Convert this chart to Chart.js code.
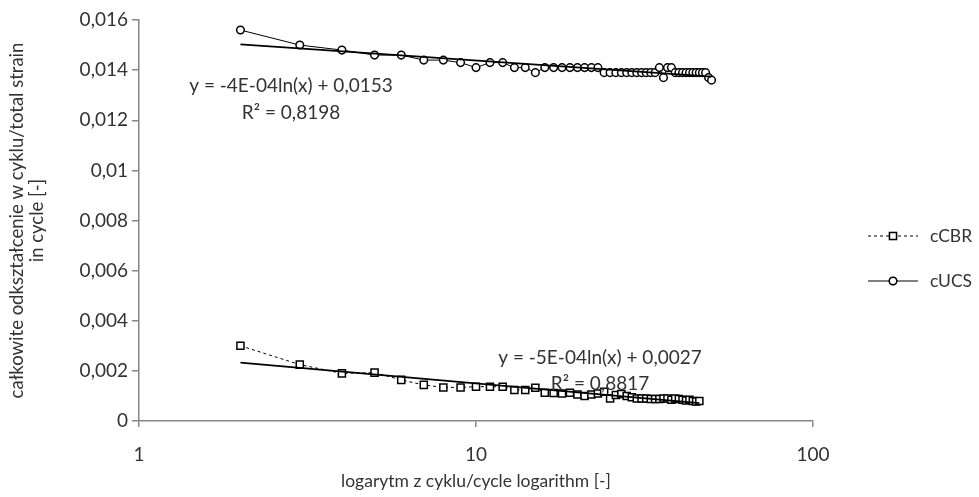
<!DOCTYPE html>
<html><head><meta charset="utf-8">
<script src="https://cdn.jsdelivr.net/npm/chart.js@4.4.1/dist/chart.umd.min.js"></script>
<style>html,body{margin:0;padding:0;background:#fff;} #wrap{width:979px;height:497px;}</style>
</head><body><div id="wrap"><canvas id="c" width="979" height="497"></canvas></div>
<script>
const cyclesCBR = [2,3,4,5,6,7,8,9,10,11,12,13,14,15,16,17,18,19,20,21,22,23,24,25,26,27,28,29,30,31,32,33,34,35,36,37,38,39,40,41,42,43,44,45,46];
const cCBR = [0.0030,0.00225,0.0019,0.00193,0.00164,0.00144,0.00134,0.00134,0.00137,0.00137,0.00137,0.00124,0.00124,0.00133,0.00113,0.00112,0.0011,0.00113,0.00106,0.0010,0.00106,0.0011,0.00117,0.0009,0.00104,0.00108,0.0010,0.00095,0.0009,0.0009,0.0009,0.00088,0.00088,0.00088,0.0009,0.0009,0.00085,0.0009,0.00088,0.00085,0.00082,0.00085,0.0008,0.00078,0.0008];
const cyclesUCS = [2,3,4,5,6,7,8,9,10,11,12,13,14,15,16,17,18,19,20,21,22,23,24,25,26,27,28,29,30,31,32,33,34,35,36,37,38,39,40,41,42,43,44,45,46,47,48,49,50];
const cUCS = [0.0156,0.0150,0.0148,0.0146,0.0146,0.0144,0.0144,0.0143,0.0141,0.0143,0.0143,0.0141,0.0141,0.0139,0.0141,0.0141,0.0141,0.0141,0.0141,0.0141,0.0141,0.0141,0.0139,0.0139,0.0139,0.0139,0.0139,0.0139,0.0139,0.0139,0.0139,0.0139,0.0139,0.0141,0.0137,0.0141,0.0141,0.0139,0.0139,0.0139,0.0139,0.0139,0.0139,0.0139,0.0139,0.0139,0.0139,0.0137,0.0136];
const xTicks = [1,10,100];
const yTicks = [0,0.002,0.004,0.006,0.008,0.01,0.012,0.014,0.016];
const seriesNames = ['cCBR','cUCS'];
const eqCBR = ['y = -5E-04ln(x) + 0,0027','R² = 0,8817'];
const eqUCS = ['y = -4E-04ln(x) + 0,0153','R² = 0,8198'];
const xTitle = 'logarytm z cyklu/cycle logarithm [-]';
const yTitle = ['całkowite odkształcenie w cyklu/total strain','in cycle [-]'];

const FONT = 'Lato, "Liberation Sans", sans-serif';
const TXT = '#333333';
const AX = '#868686';
const FS = 17.5;

function logFit(xs, ys){
  let n=xs.length,sx=0,sy=0,sxx=0,sxy=0;
  for(let i=0;i<n;i++){const l=Math.log(xs[i]);sx+=l;sy+=ys[i];sxx+=l*l;sxy+=l*ys[i];}
  const a=(n*sxy-sx*sy)/(n*sxx-sx*sx); const b=(sy-a*sx)/n; return {a,b};
}
function trend(xs, ys){
  const f=logFit(xs,ys); const x0=xs[0], x1=xs[xs.length-1];
  return [{x:x0,y:f.a*Math.log(x0)+f.b},{x:x1,y:f.a*Math.log(x1)+f.b}];
}
const pts=(xs,ys)=>xs.map((x,i)=>({x,y:ys[i]}));

const legendPlugin = {
  id:'customLegend',
  afterDraw(chart, args, opts){
    const ctx=chart.ctx; ctx.save();
    ctx.font=FS+'px '+FONT; ctx.textBaseline='middle'; ctx.textAlign='left';
    opts.items.forEach(it=>{
      const ds=chart.data.datasets[it.ds];
      ctx.strokeStyle='#000'; ctx.lineWidth=1; ctx.setLineDash(ds.borderDash||[]);
      ctx.beginPath(); ctx.moveTo(opts.x, it.y); ctx.lineTo(opts.x+opts.len, it.y); ctx.stroke();
      ctx.setLineDash([]);
      Chart.helpers.drawPoint(ctx,{pointStyle:ds.pointStyle,radius:ds.pointRadius,borderWidth:ds.pointBorderWidth},opts.x+opts.len/2,it.y);
      ctx.fillStyle='#fff'; ctx.fill();
      ctx.strokeStyle='#000'; ctx.lineWidth=ds.pointBorderWidth; ctx.stroke();
      ctx.fillStyle=TXT;
      ctx.fillText(seriesNames[it.ds], opts.textX, it.y);
    });
    ctx.restore();
  }
};
const eqPlugin = {
  id:'eqLabels',
  afterDraw(chart, args, opts){
    const ctx=chart.ctx; ctx.save();
    ctx.font=opts.size+'px '+FONT; ctx.fillStyle=TXT; ctx.textBaseline='middle'; ctx.textAlign='center';
    opts.labels.forEach(l=>{ l.lines.forEach((t,i)=>ctx.fillText(t,l.x,l.y+i*l.gap)); });
    ctx.restore();
  }
};

new Chart(document.getElementById('c'),{
  type:'scatter',
  data:{datasets:[
    {label:seriesNames[0],data:pts(cyclesCBR,cCBR),showLine:true,borderColor:'#000',borderWidth:1,borderDash:[3,3],
     pointStyle:'rect',pointRadius:5,pointBorderWidth:1.5,pointBackgroundColor:'#fff',pointBorderColor:'#000',order:2},
    {label:seriesNames[1],data:pts(cyclesUCS,cUCS),showLine:true,borderColor:'#000',borderWidth:1,
     pointStyle:'circle',pointRadius:3.8,pointBorderWidth:1.5,pointBackgroundColor:'#fff',pointBorderColor:'#000',order:2},
    {label:'trendCBR',data:trend(cyclesCBR,cCBR),showLine:true,borderColor:'#000',borderWidth:1.8,pointRadius:0,order:1},
    {label:'trendUCS',data:trend(cyclesUCS,cUCS),showLine:true,borderColor:'#000',borderWidth:1.8,pointRadius:0,order:1}
  ]},
  options:{
    responsive:false,animation:false,devicePixelRatio:1,
    layout:{padding:{left:0,right:166,top:20,bottom:0}},
    plugins:{legend:{display:false},tooltip:{enabled:false},
      customLegend:{x:868,len:50,textX:930,items:[{ds:0,y:236},{ds:1,y:281}]},
      eqLabels:{size:19,labels:[{lines:eqUCS,x:291,y:86,gap:27},{lines:eqCBR,x:600,y:358,gap:26}]}
    },
    scales:{
      x:{type:'logarithmic',min:1,max:100,
        afterBuildTicks:s=>{s.ticks=xTicks.map(v=>({value:v}));},
        afterFit:s=>{s.height=76;},
        ticks:{font:{family:FONT,size:19},color:TXT,padding:16,callback:v=>String(v),maxRotation:0,autoSkip:false},
        grid:{display:true,drawOnChartArea:false,drawTicks:true,tickLength:6,color:AX,lineWidth:1.5},
        border:{color:AX,width:1.5},
        title:{display:true,text:xTitle,font:{family:FONT,size:FS},color:TXT,padding:{top:0,bottom:5}}
      },
      y:{min:0,max:0.016,
        afterBuildTicks:s=>{s.ticks=yTicks.map(v=>({value:v}));},
        afterFit:s=>{s.width=139;},
        ticks:{font:{family:FONT,size:19},color:TXT,padding:4,callback:v=>String(Number(v.toFixed(3))).replace('.',',')},
        grid:{display:true,drawOnChartArea:false,drawTicks:true,tickLength:7,color:AX,lineWidth:1.5},
        border:{color:AX,width:1.5},
        title:{display:true,text:yTitle,font:{family:FONT,size:18.5,lineHeight:1.1},color:TXT,padding:{top:7,bottom:0}}
      }
    }
  },
  plugins:[legendPlugin,eqPlugin]
});
</script></body></html>
